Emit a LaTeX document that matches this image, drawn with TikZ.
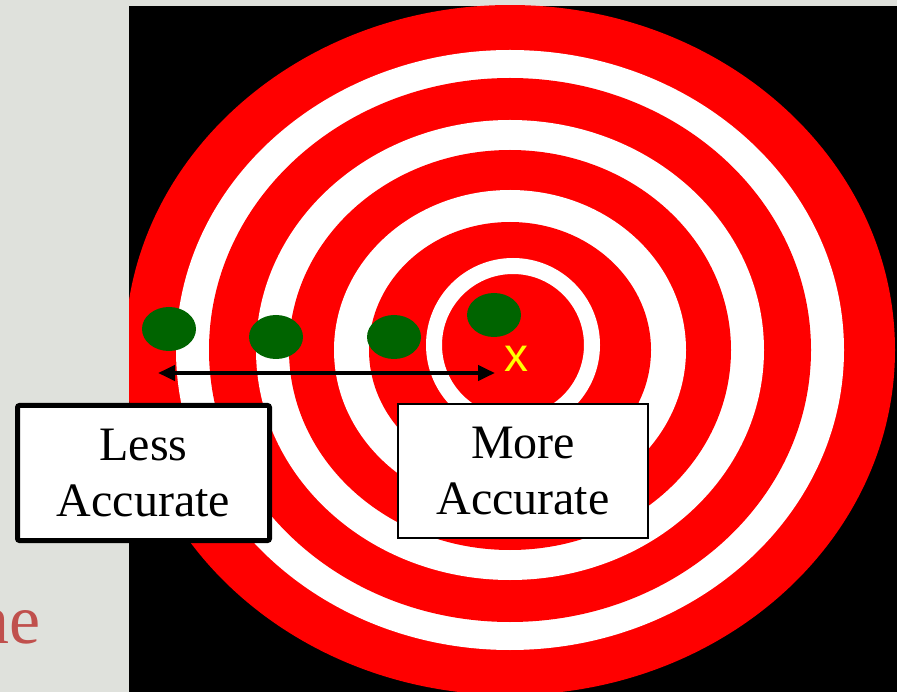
\documentclass[tikz,border=0pt]{standalone}
\usepackage{fontspec}
\setmainfont{Liberation Serif}
\newfontfamily\xsans{Liberation Sans}
\usetikzlibrary{arrows.meta}
\definecolor{slidebg}{RGB}{223,225,220}
\definecolor{tred}{RGB}{255,0,0}
\definecolor{tgreen}{RGB}{0,100,0}
\definecolor{tyellow}{RGB}{255,255,0}
\definecolor{titlered}{RGB}{192,80,77}
\tikzset{
  shot/.style={fill=tgreen},
  labelbox/.style={draw=black, fill=white, align=center, inner sep=0pt,
    font=\fontsize{48}{56}\selectfont},
}
\begin{document}
\begin{tikzpicture}[x=1pt,y=-1pt]
\fill[slidebg] (0,0) rectangle (897,692);
\useasboundingbox (0,0) rectangle (897,692);
\node[anchor=base east, text=titlered, inner sep=0pt, font=\fontsize{70}{80}\selectfont] (title) at (41,643) {ne};
\fill[black] (129,6) rectangle (897,692);
\begin{scope}
\clip (129,6) rectangle (897,692);
\fill[tred]   (510,350) ellipse [x radius=385pt, y radius=345pt];
\fill[white]  (510,350) ellipse [x radius=334pt, y radius=300pt];
\fill[tred]   (510,350) ellipse [x radius=301pt, y radius=272pt];
\fill[white]  (510,350) ellipse [x radius=254pt, y radius=230pt];
\fill[tred]   (510,350) ellipse [x radius=221pt, y radius=200pt];
\fill[white]  (510,350) ellipse [x radius=176pt, y radius=160pt];
\fill[tred]   (510,350) ellipse [x radius=141pt, y radius=128pt];
\end{scope}
\draw[white, line width=16pt] (513,345) circle [radius=79pt];
\fill[shot] (169,329) ellipse [x radius=27pt, y radius=22pt];
\fill[shot] (276,337) ellipse [x radius=27pt, y radius=22pt];
\fill[shot] (394,337) ellipse [x radius=27pt, y radius=22pt];
\fill[shot] (494,315) ellipse [x radius=27pt, y radius=22pt];
\coordinate (aL) at (158,373);
\coordinate (aR) at (495,373);
\draw[line width=4pt, {Triangle[length=17pt,width=15pt]}-{Triangle[length=17pt,width=15pt]}] (aL) -- (aR);
\node[anchor=base, text=tyellow, inner sep=0pt, font=\xsans\fontsize{48}{56}\selectfont] (xmark) at (516.5,372) {x};
\node[labelbox, line width=5pt, rounded corners=2pt, minimum width=252pt, minimum height=135pt] (less) at (143.5,473) {Less\\Accurate};
\node[labelbox, line width=2pt, minimum width=250pt, minimum height=134pt] (more) at (523,471) {More\\Accurate};
\end{tikzpicture}
\end{document}
